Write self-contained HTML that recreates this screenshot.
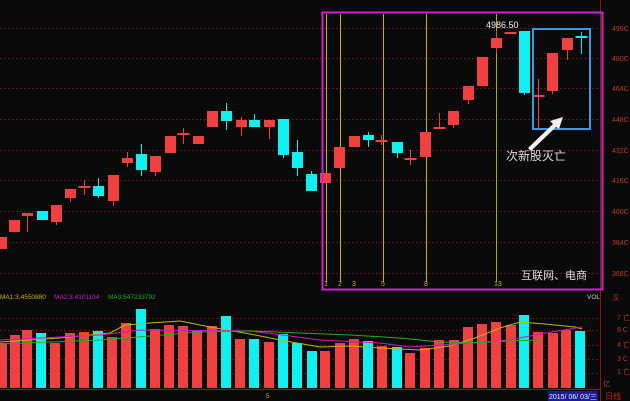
<!DOCTYPE html>
<html><head><meta charset="utf-8"><style>
html,body{margin:0;padding:0;background:#0a0a0a;width:630px;height:401px;overflow:hidden}
svg{display:block}
text{font-family:"Liberation Sans","Noto Sans CJK SC",sans-serif}
</style></head><body>
<svg id="s" width="630" height="401" viewBox="0 0 630 401" xmlns="http://www.w3.org/2000/svg">
<rect width="630" height="401" fill="#0a0a0a"/>
<g id="grid" stroke="#5a1a1a" stroke-width="1" stroke-dasharray="2,2"></g>
<line x1="600.5" y1="0" x2="600.5" y2="401" stroke="#8a1a1a"/>
<line x1="0" y1="389.5" x2="600" y2="389.5" stroke="#8a1a1a"/>
<g fill="#c0392b" font-size="7">
<text x="612" y="31">496C</text><text x="612" y="61">480C</text><text x="612" y="91">464C</text>
<text x="612" y="122">448C</text><text x="612" y="153">432C</text><text x="612" y="183">416C</text>
<text x="612" y="214">400C</text><text x="612" y="245">384C</text><text x="612" y="276">368C</text>
<text x="612" y="300">汉</text>
<text x="617" y="320">7 亡</text><text x="617" y="332">6 C</text><text x="617" y="347">4 亡</text>
<text x="617" y="361">3 C</text><text x="617" y="374">1 亡</text>
</g>
<g id="vl"></g>
<g id="c"></g>
<g id="v"></g>
<polyline fill="none" stroke="#c8b400" stroke-width="1" points="0,342 60,338 110,333 125,325 150,323 180,321 210,327 250,334 280,340 320,347 350,346 380,348 420,350 450,346 475,338 500,328 520,322 545,324 575,327 582,329"/>
<polyline fill="none" stroke="#c020c0" stroke-width="1" points="0,340 100,335 140,330 250,331 290,336 320,340 380,343 410,347 440,345 500,341 520,338 545,333 570,329 582,327"/>
<polyline fill="none" stroke="#20b020" stroke-width="1" points="0,344 100,340 200,332 250,331 300,333 350,335 400,338 440,342 470,343 510,341 540,340"/>
<rect x="322.5" y="12.5" width="280" height="277" fill="none" stroke="#d020d0" stroke-width="2"/>
<rect x="533" y="29" width="57" height="100" fill="none" stroke="#3a9ae0" stroke-width="2"/>
<polygon points="528,148 553,124 550,121 563,117 559,129 556,127 531,151" fill="#f0f0f0"/>
<text x="506" y="160" fill="#dcdcdc" font-size="12">次新股灭亡</text>
<text x="521" y="279" fill="#dcdcdc" font-size="11">互联网、电商</text>
<text x="486" y="28" fill="#f0f0f0" font-size="9" font-family="Liberation Mono">4986.50</text>
<g fill="#c8b400" font-size="7">
<text x="324" y="286">1</text><text x="338" y="286">2</text><text x="352" y="286">3</text><text x="381" y="286">5</text><text x="424" y="286">8</text><text x="494" y="286">13</text>
</g>
<g font-size="6.5">
<text x="0" y="299" fill="#c8b400">MA1:3.4550880</text>
<text x="54" y="299" fill="#c020c0">MA2:3.4101104</text>
<text x="108" y="299" fill="#20b020">MA3:547233792</text>
<text x="587" y="299" fill="#cccccc">VOL</text>
<text x="266" y="398" fill="#c8b400">5</text>
</g>
<rect x="548" y="391" width="50" height="10" fill="#1a1a9a"/>
<text x="549" y="399" fill="#f0f0f0" font-size="7">2015/ 06/ 03/三</text>
<text x="605" y="399" fill="#d02020" font-size="8">日线</text>
<text x="603" y="386" fill="#c0392b" font-size="7">亿</text>
</svg>
<script>
var NS="http://www.w3.org/2000/svg";
function el(p,t,a){var e=document.createElementNS(NS,t);for(var k in a)e.setAttribute(k,a[k]);document.getElementById(p).appendChild(e);return e;}
[28,58,88,119,150,180,211,242,273,318,330,345,359,373].forEach(function(y){el("grid","line",{x1:0,y1:y+.5,x2:600,y2:y+.5});});
[[326,"#c8b400"],[340,"#c8b400"],[383,"#c8b400"],[426,"#c8b400"],[496,"#9ab020"]].forEach(function(a){el("vl","line",{x1:a[0]+.5,y1:14,x2:a[0]+.5,y2:282,stroke:a[1],"stroke-width":1});});
var R="#f04040",C="#10f0f0";
// x, top, bottom, wickTop, wickBot, color
var cs=[[1,237,249,237,249,R],[14,220,232,220,232,R],[27,213,216,213,232,R],[42,211,220,211,220,C],[56,205,222,205,225,R],[70,189,198,189,202,R],[84,186,187,180,195,R],[98,186,196,178,198,C],[113,175,201,175,206,R],[127,158,163,152,167,R],[141,154,170,144,176,C],[155,156,172,156,176,R],[170,136,153,136,153,R],[183,133,134,128,144,R],[198,136,144,136,144,R],[212,111,127,111,127,R],[226,111,121,103,130,C],[241,120,127,117,136,R],[254,120,127,114,127,C],[269,120,127,120,139,R],[283,119,155,119,158,C],[297,152,168,140,176,C],[311,174,191,171,191,C],[325,173,183,173,183,R],[339,147,168,147,168,R],[354,136,147,136,147,R],[368,135,140,132,147,C],[381,140,141,135,145,R],[397,142,153,142,158,C],[410,158,159,150,165,R],[425,132,157,132,157,R],[439,127,128,113,128,R],[453,111,125,111,128,R],[468,86,100,86,104,R],[482,57,86,57,86,R],[496,38,48,30,53,R],[510,32,34,32,34,R],[524,31,93,31,95,C],[538,95,97,79,128,R],[552,53,91,53,94,R],[567,38,50,38,60,R],[581,36,37,32,54,C]];
cs.forEach(function(c){var w=(c[2]-c[1]<3)?12:11;
el("c","line",{x1:c[0]+.5,y1:c[3],x2:c[0]+.5,y2:c[4],stroke:c[5],"stroke-width":1});
el("c","rect",{x:c[0]-w/2+.5,y:c[1],width:w,height:Math.max(2,c[2]-c[1]),fill:c[5]});});
var vx=[2,15,27,41,55,70,84,98,112,126,141,155,169,183,197,212,226,240,254,269,283,297,312,325,340,354,368,382,397,410,425,439,454,468,482,496,511,524,538,553,566,580];
var vt=[343,335,330,333,343,333,332,331,337,323,309,329,325,326,330,326,316,339,339,342,334,343,351,351,343,339,341,346,347,353,348,340,340,327,324,322,325,315,332,333,330,331];
var cy=[3,9,16,17,20,21,22,28,29,37,41,30];
var cyan={3:1,7:1,10:1,16:1,18:1,20:1,21:1,22:1,26:1,28:1,37:1,41:1};
vx.forEach(function(x,i){el("v","rect",{x:x-5,y:vt[i],width:10,height:388-vt[i],fill:cyan[i]?C:R});});
</script>
</body></html>
